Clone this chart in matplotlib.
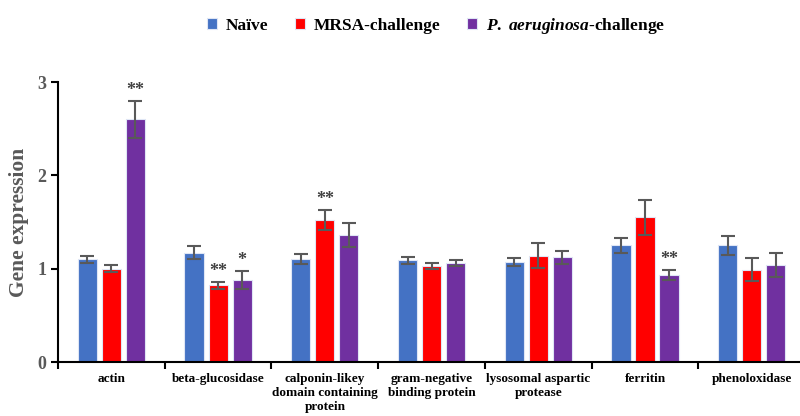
import matplotlib.pyplot as plt
import numpy as np

plt.rcParams['font.family'] = ['Liberation Serif', 'DejaVu Serif']
plt.rcParams['font.weight'] = 'bold'
plt.rcParams['mathtext.fontset'] = 'custom'
plt.rcParams['mathtext.it'] = 'Liberation Serif:italic:bold'
plt.rcParams['mathtext.rm'] = 'Liberation Serif:bold'

genes = ['actin', 'beta-glucosidase', 'calponin-likey\ndomain containing\nprotein',
         'gram-negative\nbinding protein', 'lysosomal aspartic\nprotease', 'ferritin',
         'phenoloxidase']
groups = ['Naïve', 'MRSA-challenge', r'$\it{P.\ aeruginosa}$-challenge']
colors = ['#4472C4', '#FF0000', '#7030A0']

naive = [1.10, 1.17, 1.10, 1.09, 1.07, 1.25, 1.25]
naive_err = [0.04, 0.07, 0.055, 0.04, 0.04, 0.08, 0.105]
mrsa = [1.00, 0.82, 1.52, 1.03, 1.14, 1.55, 0.99]
mrsa_err = [0.04, 0.04, 0.11, 0.035, 0.13, 0.19, 0.12]
pa = [2.60, 0.88, 1.36, 1.06, 1.12, 0.93, 1.04]
pa_err = [0.20, 0.10, 0.13, 0.03, 0.065, 0.055, 0.125]

# significance marks: (gene index, group index, text)
stars = [(0, 2, '**'), (1, 1, '**'), (1, 2, '*'), (2, 1, '**'), (5, 2, '**')]

fig = plt.figure(figsize=(8, 4.16), dpi=100)
ax = fig.add_axes([0.0725, 0.1298, 0.934, 0.673])

x = np.arange(len(genes))
w = 0.18
step = 0.225
vals = [naive, mrsa, pa]
errs = [naive_err, mrsa_err, pa_err]
for i in range(3):
    ax.bar(x + (i - 1) * step, vals[i], w, color=colors[i], edgecolor='#dfe6f5',
           linewidth=0.8, label=groups[i], zorder=2)
    ax.errorbar(x + (i - 1) * step, vals[i], yerr=errs[i], fmt='none',
                ecolor='#595959', elinewidth=1.5, capsize=5, capthick=1.5, zorder=3)

for g, s, t in stars:
    top = vals[s][g] + errs[s][g]
    ax.text(g + (s - 1) * step, top + 0.11, t, ha='center', va='center',
            fontsize=13, color='#404040')

ax.set_xlim(-0.5, len(genes) - 0.5)
ax.set_ylim(0, 3)
ax.set_yticks([0, 1, 2, 3])
ax.set_yticklabels(['0', '1', '2', '3'], fontsize=13, color='#595959', fontweight='bold')
ax.set_xticks(np.arange(len(genes) + 1) - 0.5)
ax.set_xticklabels([])
ax.set_xticks(x, minor=True)
ax.set_xticklabels(genes, minor=True, fontsize=9.5, fontweight='bold', linespacing=1.2)
ax.tick_params(axis='x', which='minor', length=0, pad=8)
ax.tick_params(axis='x', which='major', length=5, width=1.5, direction='out')
ax.tick_params(axis='y', length=5, width=1.5, direction='out')
ax.spines['top'].set_visible(False)
ax.spines['right'].set_visible(False)
ax.spines['left'].set_linewidth(1.5)
ax.spines['bottom'].set_linewidth(1.5)
ax.set_ylabel('Gene expression', fontsize=15.5, color='#595959', fontweight='bold', labelpad=6)

fig.legend(loc='upper center', bbox_to_anchor=(0.545, 1.0), ncol=3, frameon=False,
           fontsize=12.5, handlelength=0.6, handleheight=0.6, columnspacing=1.5,
           handletextpad=0.5)

fig.savefig('out.png', dpi=100)
